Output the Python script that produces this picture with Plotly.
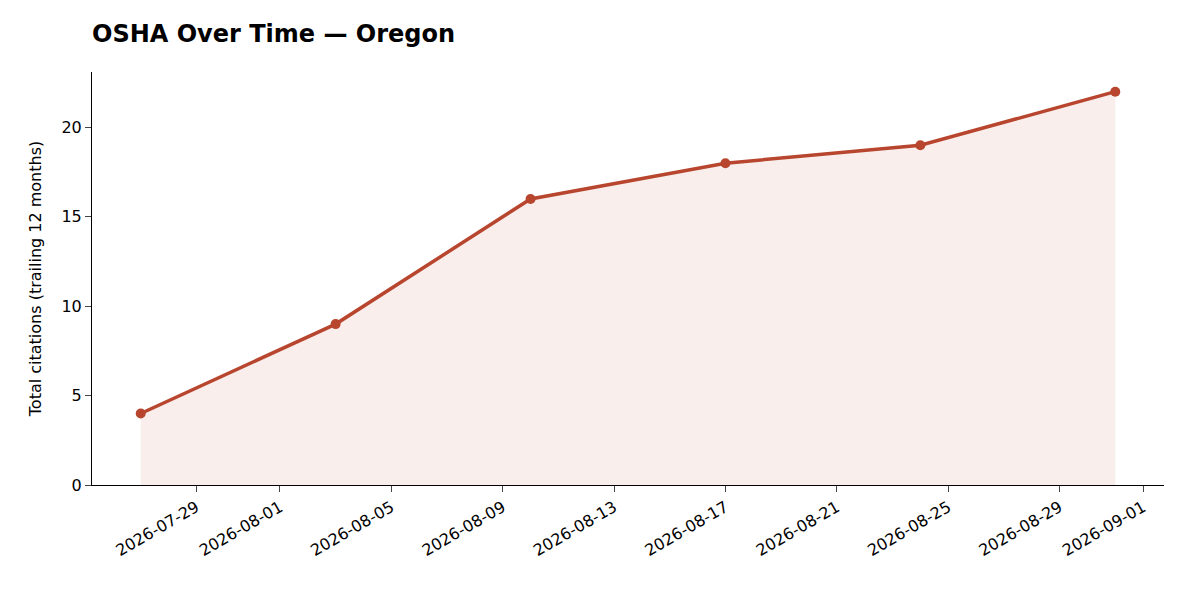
import plotly.graph_objects as go

dates = ["2026-07-27", "2026-08-03", "2026-08-10", "2026-08-17", "2026-08-24", "2026-08-31"]
values = [4, 9, 16, 18, 19, 22]
tick_dates = ["2026-07-29", "2026-08-01", "2026-08-05", "2026-08-09", "2026-08-13",
              "2026-08-17", "2026-08-21", "2026-08-25", "2026-08-29", "2026-09-01"]

color = "#b8462f"
fig = go.Figure()
fig.add_trace(go.Scatter(x=dates, y=values, mode="lines+markers", fill="tozeroy",
                         fillcolor="rgba(184,70,47,0.09)",
                         line=dict(color=color, width=3.5), marker=dict(color=color, size=10),
                         showlegend=False))
fig.update_layout(
    width=1200, height=600, plot_bgcolor="white", paper_bgcolor="white",
    margin=dict(l=84, r=44, t=64, b=123),
    font=dict(family="DejaVu Sans", size=16, color="black"),
    title=dict(text="<b>OSHA Over Time — Oregon</b>", x=84/1200, xanchor="left",
               y=1-26/600, yanchor="middle", font=dict(size=24)),
    xaxis=dict(range=["2026-07-25 06:00", "2026-09-01 18:00"], tickvals=tick_dates,
               ticktext=tick_dates, tickangle=-30, showgrid=False, showline=True,
               linecolor="black", ticks="outside", ticklen=6, zeroline=False),
    yaxis=dict(range=[0, 23.1], tickvals=[0, 5, 10, 15, 20], showgrid=False, showline=True,
               linecolor="black", ticks="outside", ticklen=6, zeroline=False,
               title=dict(text="Total citations (trailing 12 months)", font=dict(size=16))),
)
fig.write_html("out.html")
